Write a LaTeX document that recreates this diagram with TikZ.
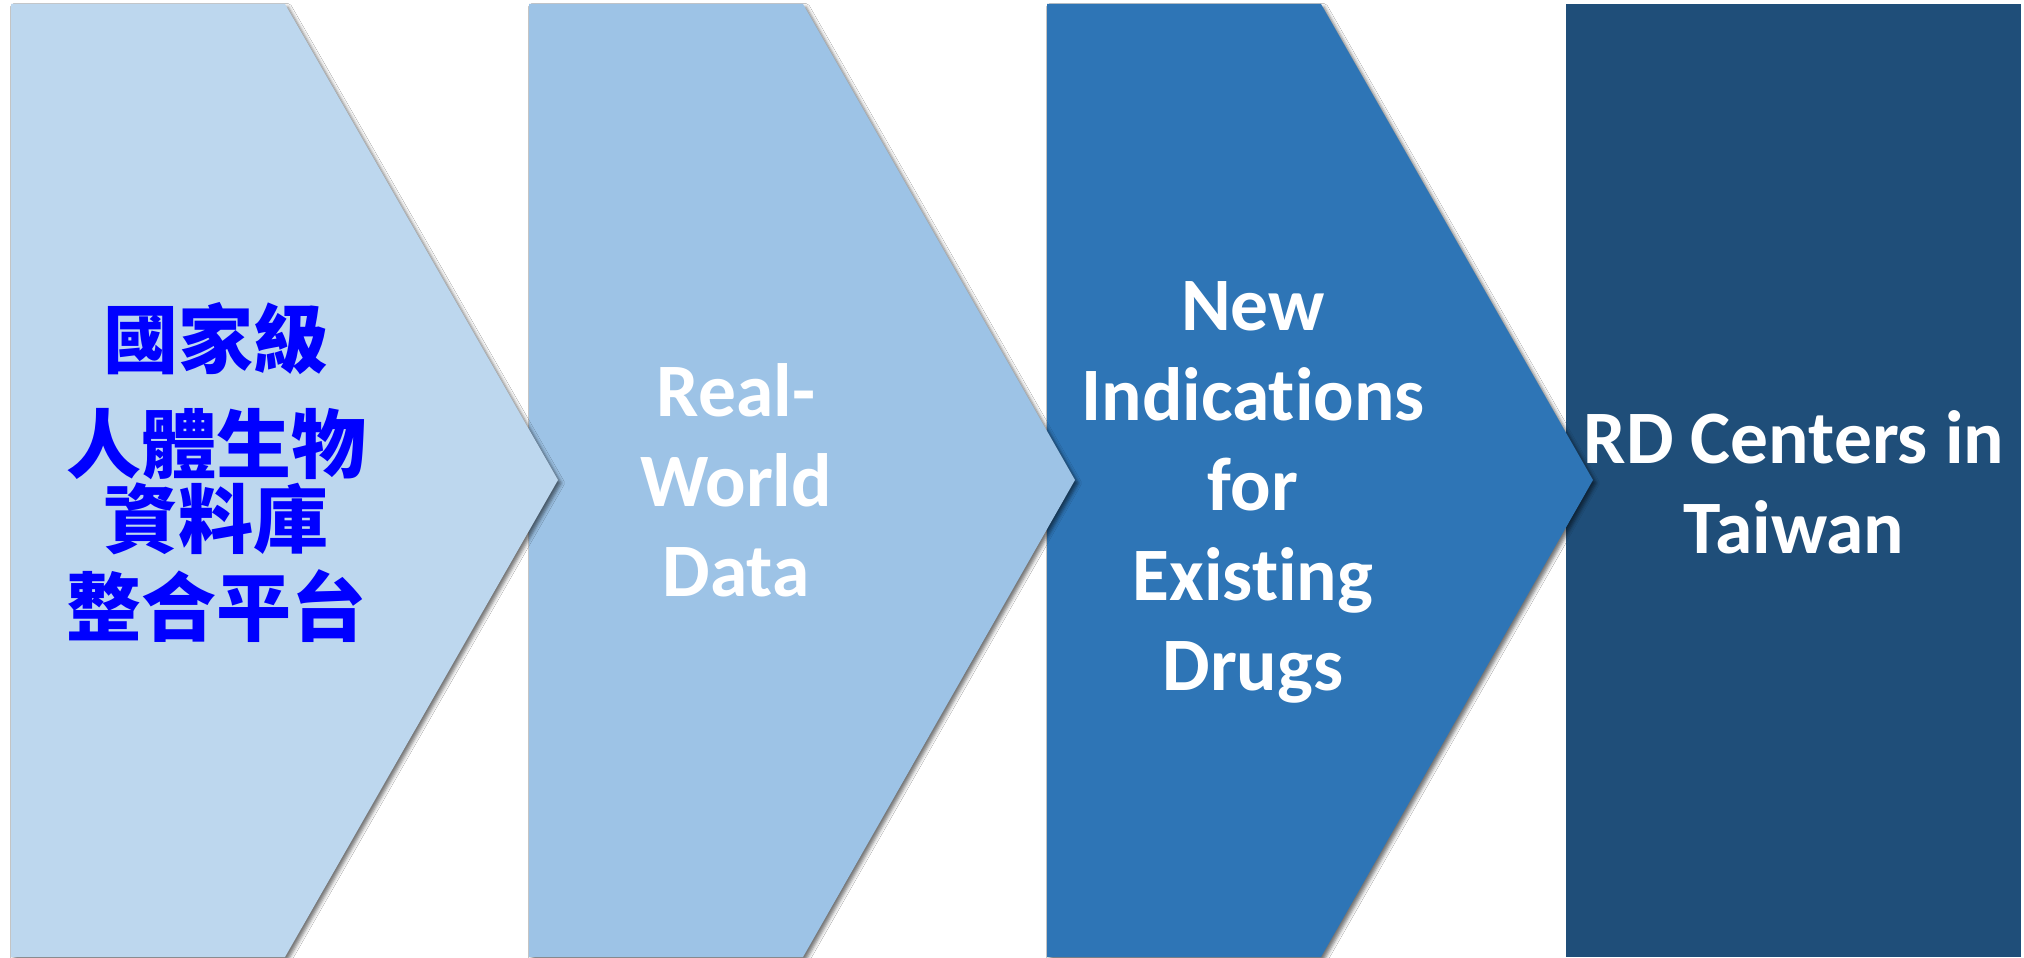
\documentclass[tikz,border=0pt]{standalone}
\usepackage{fontspec}
\setmainfont{Carlito}[Ligatures={NoCommon}, RawFeature={-liga;-dlig}]
\newfontfamily\cjk{Noto Sans CJK TC}
\usetikzlibrary{shadows.blur}
\definecolor{cA}{HTML}{BDD7EE}
\definecolor{cB}{HTML}{9DC3E6}
\definecolor{cC}{HTML}{2E75B6}
\definecolor{cD}{HTML}{1F4E79}
\definecolor{cnblue}{HTML}{0000FF}
\tikzset{
  chev/.style={blur shadow={shadow xshift=3pt, shadow yshift=-3pt, shadow blur radius=3.5pt, shadow opacity=55}},
  entext/.style={text=white, align=center, inner sep=0pt, font=\fontsize{75.5}{90}\selectfont\bfseries},
  cntext/.style={text=cnblue, align=center, inner sep=0pt, font=\fontsize{75}{75}\selectfont\cjk\bfseries}
}
\begin{document}
\begin{tikzpicture}[x=1pt,y=-1pt]
\useasboundingbox[fill=white] (0,0) rectangle (2024,958);
% step 4
\fill[cD] (1566,4) rectangle (2021,957);
% step 3
\fill[cC, chev] (1047,4) -- (1321,4) -- (1593,480) -- (1321,957) -- (1047,957) -- cycle;
% step 2
\fill[cB, chev] (529,4) -- (803,4) -- (1075,480) -- (803,957) -- (529,957) -- cycle;
% step 1
\fill[cA, chev] (11,4) -- (285,4) -- (558,480) -- (285,957) -- (11,957) -- cycle;

\node[cntext] (t1) at (216,472) {國家級\\[30pt]人體生物\\資料庫\\[13pt]整合平台};
\node[entext] (t2) at (736,480) {Real-\\World\\Data};
\node[entext] (t3) at (1253,492) {New\\Indications\\for\\Existing\\Drugs};
\node[entext] (t4) at (1794,482) {RD Centers in\\Taiwan};
\end{tikzpicture}
\end{document}
